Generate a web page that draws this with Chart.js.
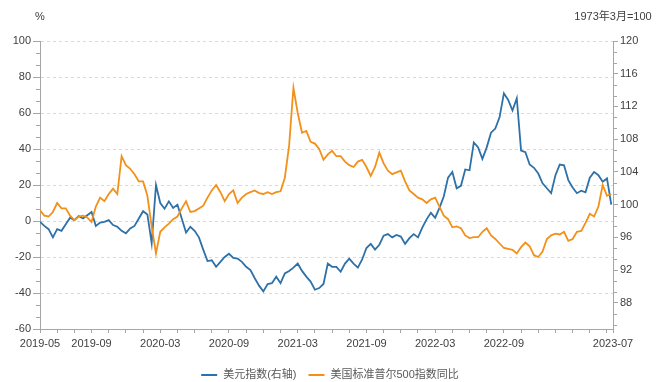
<!DOCTYPE html>
<html><head><meta charset="utf-8">
<script src="https://cdn.jsdelivr.net/npm/chart.js@4.4.0/dist/chart.umd.min.js"></script>
<style>html,body{margin:0;padding:0;background:#fff;}#wrap{width:660px;height:382px;position:relative;}</style>
</head><body><div id="wrap"><canvas id="c" width="660" height="382"></canvas></div>
<script>
// ---- data (evenly spaced observations, 2019-05 .. 2023-07) ----
const seriesNames = ['美元指数(右轴)', '美国标准普尔500指数同比'];
const dollarIndex = [
97.9,97.4,97.0,96.0,97.0,96.8,97.6,98.4,98.1,98.6,
98.3,98.7,99.1,97.4,97.8,97.9,98.1,97.5,97.3,96.8,
96.5,97.1,97.4,98.3,99.2,98.8,95.3,102.4,100.2,99.5,
100.4,99.6,100.0,98.3,96.6,97.3,96.8,96.0,94.5,93.1,
93.2,92.4,93.0,93.6,94.0,93.5,93.4,93.0,92.4,92.0,
91.0,90.1,89.4,90.3,90.4,91.2,90.4,91.6,91.9,92.3,
92.8,91.9,91.2,90.6,89.6,89.8,90.3,92.8,92.4,92.4,
91.8,92.8,93.4,92.8,92.3,93.3,94.7,95.2,94.5,95.1,
96.2,96.4,96.0,96.3,96.1,95.2,95.9,96.4,96.0,97.2,
98.2,99.0,98.4,99.6,101.0,103.3,104.0,102.0,102.3,104.3,
104.2,107.6,107.0,105.6,107.0,108.8,109.3,110.7,113.6,112.8,
111.5,113.0,106.6,106.4,104.9,104.5,103.8,102.6,102.0,101.4,
103.6,104.9,104.8,103.0,102.1,101.4,101.7,101.5,103.3,104.0,
103.6,102.8,103.2,100.0
];
const sp500YoY = [
6,3,2.5,5,10,7,7,3,0.5,2.5,
3,2,-0.5,8,13,11,15,18,15,36,
31,29,26,22,22,14,-3,-18,-6,-3.5,
-1.5,1,2.5,7,11,5,5.5,7,8.5,13,
17,20,16,11,15,17,10,13,15,16,
17,15.5,15,16,15,16,16.5,24,42,74,
60,49,50,44,43,40,34,37,39,36,
36,33,31,30,33,34,30,25,30,38,
32,28,26,27,28,22,17,15,13,12,
10,12,13,8,3,1,-3.5,-3,-4,-8,
-9.5,-9,-9,-6,-4,-8,-10,-12.5,-15,-15.5,
-16,-18,-14.5,-12,-14,-19,-20,-17,-10,-8,
-7,-7.5,-6,-11,-10,-6,-5.5,-1,4,2.5,
8,20,14,15
];
const xTickLabels = ['2019-05','2019-09','2020-03','2020-09','2021-03','2021-09','2022-03','2022-09','2023-07'];
const xTickAt = [0,12,28,44,60,76,92,108,133.4];
const xEnd = 133.4;
const xTickStep = 4;
const leftTicks = [-60,-40,-20,0,20,40,60,80,100];
const rightTicks = [88,92,96,100,104,108,112,116,120];
const leftUnit = '%';
const rightUnit = '1973年3月=100';

// ---- chart ----
const FONT = "'Liberation Sans','Noto Sans CJK SC',sans-serif";
Chart.defaults.font.family = FONT;
Chart.defaults.font.size = 11;
const BLUE = '#2e71a8', ORANGE = '#f39019', AXIS = '#a6a6a6', GRID = '#d9d9d9', TXT = '#404040';

const decor = {
  id: 'decor',
  afterDraw(chart) {
    const ctx = chart.ctx, a = chart.chartArea;
    const yl = chart.scales.y, yr = chart.scales.y2;
    ctx.save();
    ctx.strokeStyle = AXIS; ctx.lineWidth = 1;
    ctx.beginPath();
    for (let j = 1; j < 24; j++) {
      if (j % 3 === 0) continue;
      const y = Math.round(yl.getPixelForValue(leftTicks[0] + j * 20 / 3)) + 0.5;
      ctx.moveTo(a.left - 4, y); ctx.lineTo(a.left, y);
    }
    for (let j = 1; ; j++) {
      const v = rightTicks[rightTicks.length - 1] - j * 4 / 3;
      if (v <= yr.min) break;
      if (j % 3 === 0) continue;
      const y = Math.round(yr.getPixelForValue(v)) + 0.5;
      ctx.moveTo(a.right, y); ctx.lineTo(a.right + 4, y);
    }
    ctx.stroke();
    // unit titles
    ctx.fillStyle = TXT; ctx.font = '11px ' + FONT;
    ctx.textAlign = 'center'; ctx.textBaseline = 'middle';
    ctx.fillText(leftUnit, a.left, a.top - 24);
    ctx.fillText(rightUnit, a.right, a.top - 24);
    // legend
    const ds = chart.data.datasets;
    const sample = 16, gap = 6, between = 12;
    ctx.font = '11px ' + FONT;
    const widths = ds.map(d => ctx.measureText(d.label).width);
    let total = widths.reduce((s, w) => s + w + sample + gap, 0) + between * (ds.length - 1);
    let x = chart.width / 2 - total / 2;
    const ly = a.bottom + 46;
    ctx.textAlign = 'left';
    ds.forEach((d, i) => {
      ctx.strokeStyle = d.borderColor; ctx.lineWidth = 2;
      ctx.beginPath(); ctx.moveTo(x, ly); ctx.lineTo(x + sample, ly); ctx.stroke();
      ctx.fillStyle = '#595959';
      ctx.fillText(d.label, x + sample + gap, ly);
      x += sample + gap + widths[i] + between;
    });
    ctx.restore();
  }
};

new Chart(document.getElementById('c'), {
  type: 'line',
  data: {
    datasets: [
      { label: seriesNames[0], data: dollarIndex.map((v, i) => ({x: i, y: v})), yAxisID: 'y2',
        borderColor: BLUE, backgroundColor: BLUE, borderWidth: 1.8, pointRadius: 0, tension: 0, order: 1 },
      { label: seriesNames[1], data: sp500YoY.map((v, i) => ({x: i, y: v})), yAxisID: 'y',
        borderColor: ORANGE, backgroundColor: ORANGE, borderWidth: 1.8, pointRadius: 0, tension: 0, order: 0 }
    ]
  },
  options: {
    responsive: false, animation: false, devicePixelRatio: 1,
    layout: { padding: { top: 41, bottom: 29, left: 0, right: 0 } },
    plugins: { legend: { display: false }, tooltip: { enabled: false } },
    scales: {
      x: {
        type: 'linear', min: 0, max: xEnd,
        afterBuildTicks(s) {
          const t = [];
          for (let v = 0; v < xEnd; v += xTickStep) t.push({value: v});
          t.push({value: xEnd});
          s.ticks = t;
        },
        afterFit(s) { s.height = 24; },
        ticks: { autoSkip: false, maxRotation: 0, minRotation: 0, padding: 4, color: TXT,
          callback(v) { const i = xTickAt.indexOf(v); return i >= 0 ? xTickLabels[i] : ''; } },
        grid: { drawOnChartArea: false, drawTicks: true, tickLength: 4, tickColor: AXIS, tickWidth: 1 },
        border: { display: true, color: AXIS, width: 1 }
      },
      y: {
        type: 'linear', position: 'left', min: leftTicks[0], max: leftTicks[leftTicks.length - 1],
        afterBuildTicks(s) { s.ticks = leftTicks.map(v => ({value: v})); },
        afterFit(s) { s.width = 40; },
        ticks: { padding: 2, color: TXT },
        grid: { color: GRID, lineWidth: 1, drawTicks: true, tickLength: 7, tickColor: AXIS, tickWidth: 1, tickBorderDash: [] },
        border: { display: true, color: AXIS, width: 1, dash: [3, 3] }
      },
      y2: {
        type: 'linear', position: 'right', min: 84.8, max: rightTicks[rightTicks.length - 1],
        afterBuildTicks(s) { s.ticks = rightTicks.map(v => ({value: v})); },
        afterFit(s) { s.width = 47; },
        ticks: { padding: 2, color: TXT },
        grid: { drawOnChartArea: false, drawTicks: true, tickLength: 5, tickColor: AXIS, tickWidth: 1 },
        border: { display: true, color: AXIS, width: 1 }
      }
    }
  },
  plugins: [decor]
});
</script></body></html>
